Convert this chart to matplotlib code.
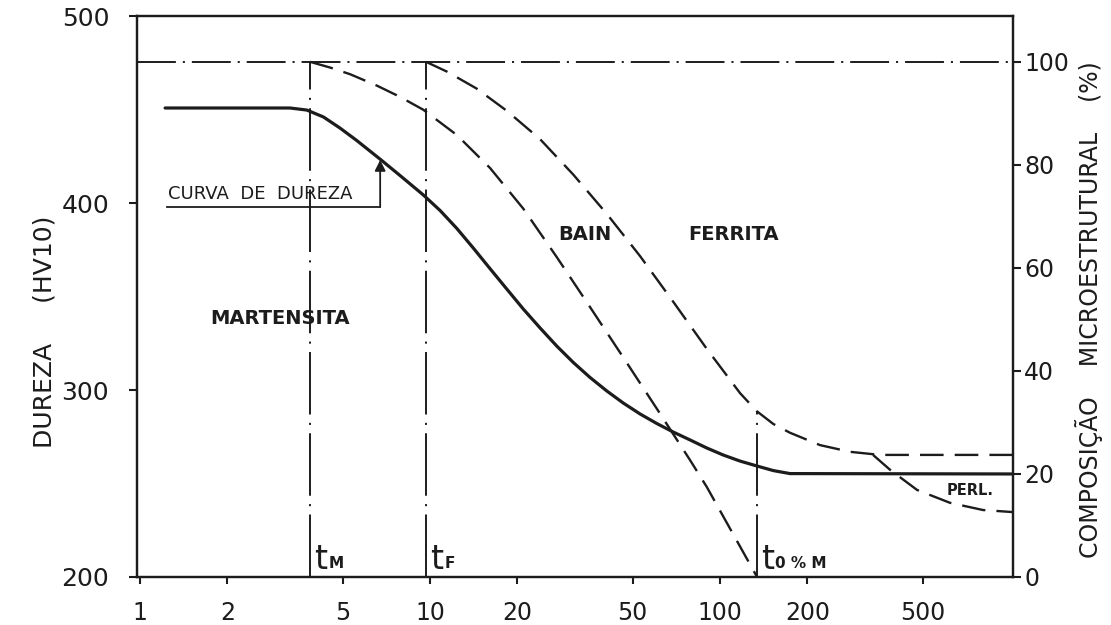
import matplotlib
matplotlib.use('Agg')
import matplotlib.pyplot as plt
from matplotlib.ticker import NullLocator

plt.rcParams['font.family'] = ['DejaVu Sans']
plt.rcParams['lines.scale_dashes'] = False

## data (tempo em s, escala log)
dureza_t = [1.22, 3.29, 3.76, 4.29, 4.89, 5.59, 6.72, 7.88, 9.48, 10.83, 12.37, 14.10,
            16.10, 18.39, 20.97, 23.95, 27.35, 31.20, 35.62, 40.68, 46.41, 52.98,
            60.49, 69.02, 78.80, 89.98, 102.7, 117.2, 133.8, 152.7, 174.3, 1024]
dureza_hv = [450.8, 450.8, 449.7, 446.0, 440.1, 433.4, 423.5, 414.7, 404.3, 396.0, 386.4, 375.9,
             364.9, 354.0, 343.3, 333.2, 323.5, 314.7, 306.7, 299.5, 293.0, 287.2,
             282.1, 277.5, 273.3, 269.0, 265.2, 262.0, 259.4, 256.9, 255.3, 255.1]

mart_t = [3.86, 4.52, 5.30, 6.55, 7.88, 9.48, 12.37, 16.10, 20.97, 27.35, 35.62,
          46.41, 60.49, 78.80, 89.98, 134.2]
mart_pct = [100, 98.9, 97.6, 95.4, 93.2, 90.7, 85.8, 79.4, 71.5, 62.1, 52.4,
            42.6, 32.7, 22.7, 17.5, 0]

bain_t = [9.69, 11.44, 14.49, 18.39, 23.95, 31.20, 40.68, 52.98, 69.02, 89.98,
          117.2, 133.8, 152.7, 174.3, 221.3, 280.7, 356.2, 1024]
bain_pct = [100, 98.1, 94.8, 90.5, 85.0, 78.1, 70.5, 62.3, 53.4, 44.3,
            35.7, 32.2, 29.7, 28.0, 25.6, 24.3, 23.7, 23.7]

perl_t = [337, 386, 478, 621, 807, 1024]
perl_pct = [23.7, 20.8, 16.9, 14.4, 13.0, 12.6]

# tempos caracteristicos e altura das linhas verticais (%)
t_marks = [3.86, 9.69, 134.2]
t_tops = [100, 100, 32.2]
t_subs = ['M', 'F', '0 % M']

x_ticks = [1, 2, 5, 10, 20, 50, 100, 200, 500]
x_ticklabels = ['1', '2', '5', '10', '20', '50', '100', '200', '500']
hv_ticks = [200, 300, 400, 500]
pct_ticks = [0, 20, 40, 60, 80, 100]

ink = '#1c1c1c'
dashdot = (0, (28, 5, 1.5, 5))
vdashdot = (0, (45, 6, 1.5, 6))
dashed = (0, (17, 8))

fig = plt.figure(figsize=(11.11, 6.25), dpi=100)
ax = fig.add_axes([0.1233, 0.0768, 0.7885, 0.8976])
ax2 = ax.twinx()

ax.set_xscale('log')
ax.set_xlim(0.976, 1024)
ax.set_ylim(200, 500)
ax2.set_ylim(0, 108.9)

ax.set_xticks(x_ticks)
ax.set_xticklabels(x_ticklabels)
ax.xaxis.set_minor_locator(NullLocator())
ax.set_yticks(hv_ticks)
ax2.set_yticks(pct_ticks)

for a in (ax, ax2):
    for s in a.spines.values():
        s.set_linewidth(1.6)
        s.set_color(ink)
ax.tick_params(axis='x', direction='out', length=5, width=1.5, labelsize=17, pad=12, colors=ink)
ax.tick_params(axis='y', direction='out', length=6, width=1.5, labelsize=18, pad=14, colors=ink)
ax2.tick_params(axis='y', direction='out', length=6, width=1.5, labelsize=17, pad=2, colors=ink)

## curves
ax.plot(dureza_t, dureza_hv, color=ink, lw=2.3, solid_capstyle='round', solid_joinstyle='round')
ax2.plot(mart_t, mart_pct, color=ink, lw=1.7, linestyle=dashed)
ax2.plot(bain_t, bain_pct, color=ink, lw=1.7, linestyle=dashed)
ax2.plot(perl_t, perl_pct, color=ink, lw=1.7, linestyle=dashed)

ax2.axhline(100, color=ink, lw=1.4, linestyle=dashdot)
for t, top, sub in zip(t_marks, t_tops, t_subs):
    ax2.plot([t, t], [0, top], color=ink, lw=1.4, linestyle=vdashdot)
    ax2.annotate('t', xy=(t, 0), xytext=(3, 1), textcoords='offset points',
                 fontsize=24, color=ink, ha='left', va='bottom')
    ax2.annotate(sub, xy=(t, 0), xytext=(13, 4), textcoords='offset points',
                 fontsize=11, fontweight='bold', color=ink, ha='left', va='bottom')

## labels inside
txt = dict(color=ink, fontsize=14, fontweight='bold', ha='center', va='center')
ax.text(3.04, 338.5, 'MARTENSITA', **txt)
ax.text(34.2, 383, 'BAIN', **txt)
ax.text(111, 383, 'FERRITA', **txt)
ax.text(728, 246.5, 'PERL.', color=ink, fontsize=10.5, fontweight='bold', ha='center', va='center')

ax.text(1.249, 405, 'CURVA  DE  DUREZA', color=ink, fontsize=13, ha='left', va='center')
ax.plot([1.24, 6.73], [397.9, 397.9], color=ink, lw=1.3)
ax.annotate('', xy=(6.73, 423), xytext=(6.73, 397.9),
            arrowprops=dict(arrowstyle='-|>', color=ink, lw=1.3, mutation_scale=16,
                            shrinkA=0, shrinkB=0))

fig.text(0.0405, 0.4688, 'DUREZA     (HV10)', rotation=90, fontsize=18,
         color=ink, ha='center', va='center')
fig.text(0.980, 0.504, 'COMPOSIÇÃO    MICROESTRUTURAL    (%)', rotation=90, fontsize=17,
         color=ink, ha='center', va='center')

fig.savefig('out.png', dpi=100)
